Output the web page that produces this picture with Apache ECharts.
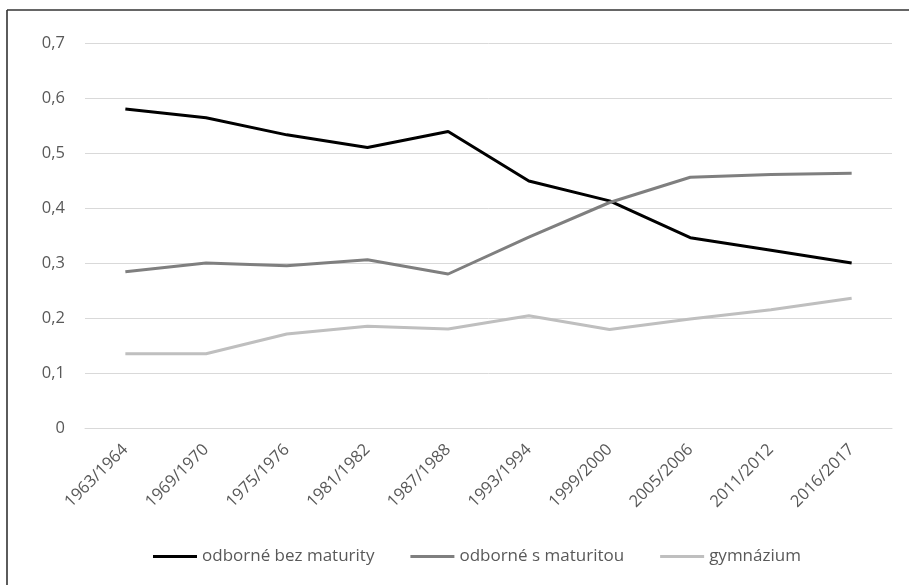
<!DOCTYPE html>
<html>
<head>
<meta charset="utf-8">
<script src="https://cdn.jsdelivr.net/npm/echarts@6/dist/echarts.min.js"></script>
<style>
html,body{margin:0;padding:0;background:#fff;}
#chart{width:909px;height:585px;}
</style>
</head>
<body>
<div id="chart"></div>
<script>
var categories = ['1963/1964','1969/1970','1975/1976','1981/1982','1987/1988','1993/1994','1999/2000','2005/2006','2011/2012','2016/2017'];
var seriesNames = ['odborné bez maturity','odborné s maturitou','gymnázium'];
var bezMaturity = [0.580,0.564,0.533,0.510,0.539,0.449,0.413,0.346,0.323,0.300];
var sMaturitou = [0.284,0.300,0.295,0.306,0.280,0.347,0.410,0.456,0.461,0.463];
var gymnazium = [0.135,0.135,0.171,0.185,0.180,0.204,0.179,0.198,0.215,0.236];
var yTicks = {min:0, max:0.7, interval:0.1};

var FONT = '"Open Sans", sans-serif';
var chart = echarts.init(document.getElementById('chart'), null, {renderer:'canvas'});
var colors = ['#000000','#7f7f7f','#bfbfbf'];
var dataSets = [bezMaturity, sMaturitou, gymnazium];

chart.setOption({
  animation:false,
  backgroundColor:'#ffffff',
  color: colors,
  graphic:[
    {type:'line', shape:{x1:7,y1:10,x2:909,y2:10}, style:{stroke:'#333333',lineWidth:1.6}},
    {type:'line', shape:{x1:7,y1:10,x2:7,y2:585}, style:{stroke:'#333333',lineWidth:1.6}}
  ],
  grid:{left:85, right:17, top:43, bottom:157, containLabel:false},
  legend:{
    left:148, top:543,
    itemWidth:44, itemHeight:3, itemGap:36,
    icon:'rect',
    textStyle:{fontFamily:FONT, fontSize:17, color:'#595959'},
    data: seriesNames
  },
  xAxis:{
    type:'category',
    data: categories,
    boundaryGap:true,
    axisLine:{show:true, lineStyle:{color:'#d9d9d9', width:1}},
    axisTick:{show:false},
    axisLabel:{rotate:45, margin:19, fontFamily:FONT, fontSize:16.5, color:'#595959', interval:0}
  },
  yAxis:{
    type:'value',
    min: yTicks.min, max: yTicks.max, interval: yTicks.interval,
    axisLine:{show:false},
    axisTick:{show:false},
    splitLine:{lineStyle:{color:'#d9d9d9', width:1}},
    axisLabel:{margin:20, fontFamily:FONT, fontSize:16.5, color:'#595959',
      formatter:function(v){ return (Math.round(v*10)/10).toString().replace('.',','); }}
  },
  series: seriesNames.map(function(n,i){
    return {
      name:n, type:'line', data:dataSets[i],
      symbol:'none', smooth:false,
      lineStyle:{color:colors[i], width:3},
      itemStyle:{color:colors[i]}
    };
  })
});
</script>
</body>
</html>
